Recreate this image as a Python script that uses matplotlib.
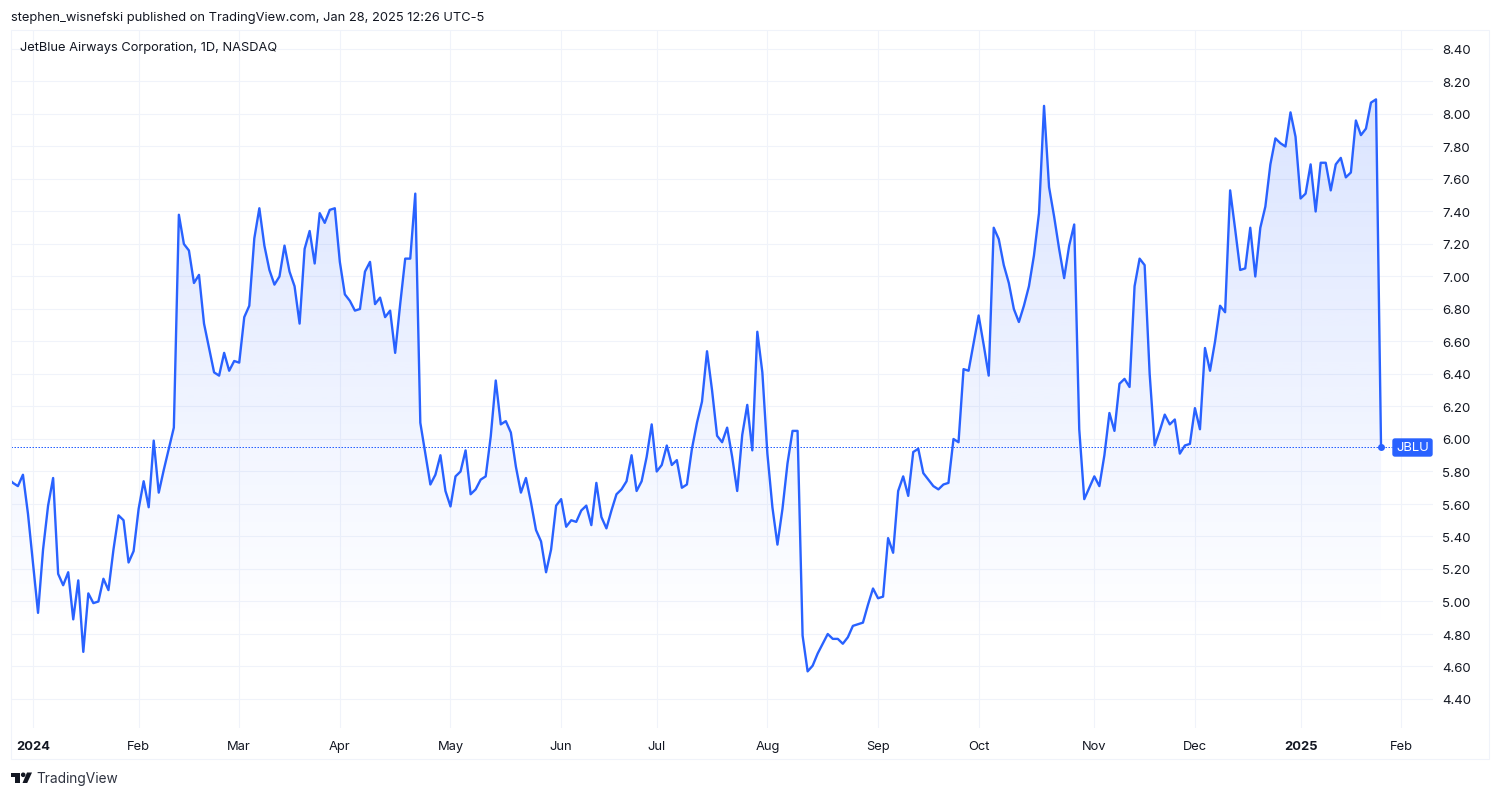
import matplotlib
matplotlib.use("Agg")
import matplotlib.pyplot as plt
import numpy as np
from matplotlib.patches import Circle, FancyBboxPatch, Polygon, Rectangle
from matplotlib.transforms import Affine2D

W, H = 1500, 797
BLUE = "#2962ff"
GRID = "#f0f3fa"
TEXT = "#131722"

# daily closes, starting five sessions before the first 2024 session
prices = [
    5.76, 5.73, 5.71, 5.78, 5.54, 5.235, 4.93, 5.32, 5.59, 5.76,
    5.17, 5.10, 5.18, 4.89, 5.13, 4.69, 5.05, 4.99, 5.00, 5.14,
    5.07, 5.32, 5.53, 5.50, 5.24, 5.31, 5.57, 5.74, 5.58, 5.99,
    5.67, 5.81, 5.94, 6.07, 7.38, 7.20, 7.16, 6.96, 7.01, 6.71,
    6.56, 6.41, 6.39, 6.53, 6.42, 6.48, 6.47, 6.75, 6.82, 7.235,
    7.42, 7.19, 7.04, 6.95, 7.00, 7.19, 7.03, 6.94, 6.71, 7.17,
    7.28, 7.08, 7.39, 7.33, 7.41, 7.42, 7.09, 6.89, 6.85, 6.79,
    6.80, 7.03, 7.09, 6.83, 6.87, 6.75, 6.79, 6.53, 6.83, 7.11,
    7.11, 7.51, 6.10, 5.91, 5.72, 5.78, 5.90, 5.68, 5.585, 5.77,
    5.80, 5.93, 5.66, 5.69, 5.75, 5.77, 6.015, 6.36, 6.09, 6.11,
    6.04, 5.83, 5.67, 5.76, 5.61, 5.44, 5.37, 5.18, 5.32, 5.59,
    5.63, 5.46, 5.50, 5.49, 5.56, 5.59, 5.47, 5.73, 5.52, 5.45,
    5.56, 5.66, 5.69, 5.74, 5.90, 5.68, 5.74, 5.89, 6.09, 5.80,
    5.84, 5.96, 5.84, 5.87, 5.70, 5.72, 5.94, 6.10, 6.23, 6.54,
    6.30, 6.02, 5.98, 6.07, 5.89, 5.68, 6.025, 6.21, 5.93, 6.66,
    6.41, 5.91, 5.58, 5.35, 5.57, 5.85, 6.05, 6.05, 4.79, 4.57,
    4.605, 4.68, 4.74, 4.80, 4.77, 4.77, 4.74, 4.78, 4.85, 4.86,
    4.87, 4.98, 5.08, 5.02, 5.03, 5.39, 5.30, 5.68, 5.77, 5.65,
    5.92, 5.94, 5.79, 5.75, 5.71, 5.69, 5.72, 5.73, 6.00, 5.98,
    6.43, 6.42, 6.59, 6.76, 6.58, 6.39, 7.30, 7.23, 7.07, 6.96,
    6.80, 6.72, 6.82, 6.94, 7.13, 7.39, 8.05, 7.55, 7.37, 7.17,
    6.99, 7.19, 7.32, 6.06, 5.63, 5.70, 5.77, 5.71, 5.90, 6.16,
    6.05, 6.34, 6.37, 6.32, 6.94, 7.11, 7.07, 6.40, 5.96, 6.05,
    6.15, 6.09, 6.12, 5.91, 5.96, 5.97, 6.19, 6.06, 6.56, 6.42,
    6.60, 6.82, 6.78, 7.53, 7.29, 7.04, 7.05, 7.30, 7.00, 7.30,
    7.43, 7.69, 7.85, 7.82, 7.80, 8.01, 7.86, 7.48, 7.51, 7.69,
    7.40, 7.70, 7.70, 7.53, 7.69, 7.73, 7.61, 7.64, 7.96, 7.87,
    7.91, 8.07, 8.09, 5.95,
]
last_price = 5.948

# session number of the first session of each month (0 = first session of 2024)
month_sessions = [0, 21, 41, 61, 83, 105, 124, 146, 168, 188, 211, 231, 252, 272]
month_labels = ["2024", "Feb", "Mar", "Apr", "May", "Jun", "Jul", "Aug", "Sep",
                "Oct", "Nov", "Dec", "2025", "Feb"]
price_ticks = [4.40, 4.60, 4.80, 5.00, 5.20, 5.40, 5.60, 5.80, 6.00, 6.20, 6.40,
               6.60, 6.80, 7.00, 7.20, 7.40, 7.60, 7.80, 8.00, 8.20, 8.40]

plt.rcParams["font.family"] = ["Inter", "DejaVu Sans"]

fig = plt.figure(figsize=(W / 100, H / 100), dpi=100, facecolor="white")

# pane box in pixels
left, right, top, bottom = 10.5, 1433, 29.5, 728
ax = fig.add_axes([left / W, 1 - bottom / H, (right - left) / W, (bottom - top) / H])
ax.set_facecolor("none")

# pixels measured from the top left of the figure
px = Affine2D().scale(1, -1).translate(0, H)

x = np.arange(len(prices)) - 5
xlim = ((left - 33) / 5.03, (right - 33) / 5.03)
ylim = (8.40 - (bottom - 49) / 162.5, 8.40 - (top - 49) / 162.5)

ax.grid(True, color=GRID, lw=0.75, zorder=0)
ax.set_axisbelow(True)

# area under the line, fading out towards the bottom
shade = np.zeros((256, 1, 4))
shade[..., 0] = 0x29 / 255
shade[..., 1] = 0x62 / 255
shade[..., 2] = 1.0
shade[..., 3] = np.linspace(0.17, 0.0, 256).reshape(-1, 1)
img = ax.imshow(shade, extent=[xlim[0], xlim[1], 4.8, max(prices)], aspect="auto",
                origin="upper", zorder=1, interpolation="bilinear")
verts = list(zip(x, prices)) + [(x[-1], ylim[0]), (x[0], ylim[0])]
clip = Polygon(verts, closed=True, transform=ax.transData, fc="none", ec="none")
ax.add_patch(clip)
img.set_clip_path(clip)

ax.plot(x, prices, color=BLUE, lw=1.7, zorder=3, solid_joinstyle="round")

ax.set_xlim(xlim)
ax.set_ylim(ylim)
ax.set_xticks(month_sessions)
ax.set_xticklabels(month_labels, fontsize=9.3, color=TEXT)
for lab in ax.get_xticklabels():
    if lab.get_text() in ("2024", "2025"):
        lab.set_fontweight("bold")
ax.set_yticks(price_ticks)
ax.set_yticklabels([f"{v:.2f}" for v in price_ticks], fontsize=9.5, color=TEXT,
                   va="center_baseline")
ax.yaxis.tick_right()
ax.tick_params(axis="both", length=0)
ax.tick_params(axis="x", pad=9.2)
ax.tick_params(axis="y", pad=6.8)
for lab in ax.get_yticklabels():
    lab.set_transform(lab.get_transform() + Affine2D().translate(0, -1))
for s in ax.spines.values():
    s.set_visible(False)

# last price line, dot and label
ax.plot([xlim[0], (1392 - 33) / 5.03], [last_price, last_price], color=BLUE, lw=0.72,
        dashes=(1.5, 1.5), zorder=2)
ax.plot([x[-1]], [last_price], "o", color=BLUE, ms=5, mec="none", zorder=4)

fig.add_artist(FancyBboxPatch((1393, 439), 39, 17, boxstyle="round,pad=0,rounding_size=2",
                              fc=BLUE, ec=BLUE, lw=1, transform=px))
fig.text(1412.5 / W, 1 - 447.8 / H, "JBLU", color="white", fontsize=9.4, ha="center", va="center")

# outer frame
fig.add_artist(Rectangle((10.5, 29.5), 1478.5, 729.5, fc="none", ec=GRID, lw=0.75, transform=px))

fig.text(11 / W, 1 - 18.5 / H, "stephen_wisnefski published on TradingView.com, Jan 28, 2025 12:26 UTC-5",
         color=TEXT, fontsize=9.28, va="center")
fig.text(20 / W, 1 - 48 / H, "JetBlue Airways Corporation, 1D, NASDAQ", color=TEXT, fontsize=9.27, va="center")

# TradingView mark and name
fig.add_artist(Polygon([(11, 772.5), (20, 772.5), (20, 783), (15, 783), (15, 777), (11, 777)],
                       closed=True, fc=TEXT, ec="none", transform=px))
fig.add_artist(Circle((23.2, 774.8), 2.3, fc=TEXT, ec="none", transform=px))
fig.add_artist(Polygon([(27, 772.5), (32, 772.5), (27.2, 783), (22.5, 783)],
                       closed=True, fc=TEXT, ec="none", transform=px))
fig.text(36 / W, 1 - 778.5 / H, "TradingView", color="#2e3340", fontsize=9.9, va="center")

fig.savefig("out.png", dpi=100)
